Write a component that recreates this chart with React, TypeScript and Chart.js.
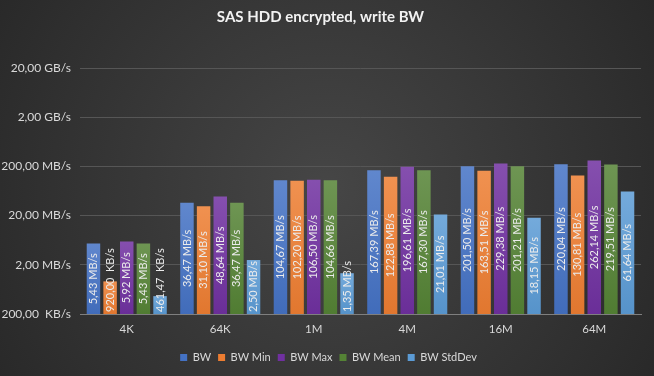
import React, { useEffect, useRef } from "react";
import { Chart, registerables } from "chart.js";

Chart.register(...registerables);

const categories = ["4K", "64K", "1M", "4M", "16M", "64M"];
const seriesNames = ["BW", "BW Min", "BW Max", "BW Mean", "BW StdDev"];
// values in MB/s
const bwValues = [5.43, 36.47, 104.67, 167.39, 201.5, 220.04];
const bwMinValues = [0.92, 31.1, 102.2, 122.88, 163.51, 130.81];
const bwMaxValues = [5.92, 48.64, 106.5, 196.61, 229.38, 262.14];
const bwMeanValues = [5.43, 36.47, 104.66, 167.3, 201.21, 219.51];
const bwStdDevValues = [0.46147, 2.5, 1.35, 21.01, 18.15, 61.64];
const yTickValues = [0.2, 2, 20, 200, 2000, 20000];

const seriesColors = ["#4472C4", "#ED7D31", "#7030A0", "#548235", "#5B9BD5"];
const FONT = "Lato, 'Noto Sans', sans-serif";

function fmt(v: number): string {
  const c = (x: number) => x.toFixed(2).replace(".", ",");
  if (v < 1) return c(v * 1000) + "  KB/s";
  if (v >= 1000) return c(v / 1000) + " GB/s";
  return c(v) + " MB/s";
}

function mix(hex: string, target: number, amt: number): string {
  const n = parseInt(hex.slice(1), 16);
  const r = (n >> 16) & 255, g = (n >> 8) & 255, b = n & 255;
  const m = (x: number) => Math.round(x + (target - x) * amt);
  return `rgb(${m(r)},${m(g)},${m(b)})`;
}

const bgPlugin = {
  id: "bg",
  beforeDraw(chart: any) {
    const { ctx, width, height } = chart;
    const g = ctx.createRadialGradient(width / 2, height / 2, 0, width / 2, height / 2, Math.max(width, height) * 0.6);
    g.addColorStop(0, "#464646");
    g.addColorStop(1, "#282828");
    ctx.save();
    ctx.fillStyle = g;
    ctx.fillRect(0, 0, width, height);
    ctx.restore();
  },
};

const legendShiftPlugin = {
  id: "legendShift",
  afterLayout(chart: any) {
    const lg = chart.legend;
    if (lg) {
      lg.left += 8;
      lg.right += 8;
    }
  },
};

const labelPlugin = {
  id: "barLabels",
  afterDatasetsDraw(chart: any) {
    const ctx = chart.ctx;
    ctx.save();
    ctx.font = `11px ${FONT}`;
    chart.data.datasets.forEach((ds: any, di: number) => {
      const meta = chart.getDatasetMeta(di);
      meta.data.forEach((bar: any, i: number) => {
        const text = fmt(ds.data[i]);
        const w = ctx.measureText(text).width;
        const base = bar.base;
        let cy = (bar.y + base) / 2;
        if (cy + w / 2 > base - 2) cy = base - 2 - w / 2;
        ctx.save();
        ctx.translate(bar.x, cy);
        ctx.rotate(-Math.PI / 2);
        ctx.textAlign = "center";
        ctx.textBaseline = "middle";
        ctx.fillStyle = "#ebebeb";
        ctx.fillText(text, 0, 0);
        ctx.restore();
      });
    });
    ctx.restore();
  },
};

export default function App() {
  const ref = useRef<HTMLCanvasElement>(null);
  useEffect(() => {
    document.body.style.margin = "0";
    const allSeries = [bwValues, bwMinValues, bwMaxValues, bwMeanValues, bwStdDevValues];
    const chart = new Chart(ref.current!, {
      type: "bar",
      data: {
        labels: categories,
        datasets: allSeries.map((vals, si) => ({
          label: seriesNames[si],
          data: vals,
          barPercentage: 0.81,
          categoryPercentage: 0.89,
          backgroundColor: (c: any) => {
            const chart = c.chart;
            const base = seriesColors[si];
            if (!chart.chartArea || c.raw === undefined || c.type !== "data") return base;
            const y = chart.scales.y;
            const top = y.getPixelForValue(c.raw);
            const bottom = y.bottom;
            if (!isFinite(top) || bottom - top < 1) return base;
            const g = chart.ctx.createLinearGradient(0, top, 0, bottom);
            g.addColorStop(0, mix(base, 255, 0.15));
            g.addColorStop(1, mix(base, 0, 0.05));
            return g;
          },
        })),
      },
      options: {
        responsive: true,
        maintainAspectRatio: false,
        animation: false,
        layout: { padding: { left: 0, right: 13, top: 0, bottom: 3 } },
        plugins: {
          title: {
            display: true,
            text: "SAS HDD encrypted, write BW",
            color: "#f2f2f2",
            font: { size: 15, weight: "bold", family: FONT },
            padding: { top: 8, bottom: 42 },
          },
          legend: {
            position: "bottom",
            labels: {
              boxWidth: 7,
              boxHeight: 7,
              color: "#d9d9d9",
              font: { size: 11, family: FONT },
              padding: 7,
              generateLabels: (chart: any) =>
                chart.data.datasets.map((ds: any, i: number) => ({
                  text: ds.label,
                  fillStyle: seriesColors[i],
                  strokeStyle: seriesColors[i],
                  lineWidth: 0,
                  fontColor: "#d9d9d9",
                  datasetIndex: i,
                  hidden: false,
                })),
            },
          },
          tooltip: { enabled: false },
        },
        scales: {
          x: {
            grid: { display: false, drawTicks: false },
            border: { display: true, color: "#7f7f7f", width: 1 },
            ticks: { color: "#d9d9d9", font: { size: 11.5, family: FONT }, padding: 8 },
            afterFit: (s: any) => {
              s.height = 31;
            },
          },
          y: {
            type: "logarithmic",
            min: 0.2,
            max: 20000,
            afterBuildTicks: (s: any) => {
              s.ticks = yTickValues.map((v) => ({ value: v }));
            },
            afterFit: (s: any) => {
              s.width = 80;
            },
            ticks: {
              color: "#d9d9d9",
              font: { size: 12, family: FONT },
              padding: 9,
              autoSkip: false,
              callback: (v: any) => fmt(Number(v)),
            },
            grid: { color: "#565656", drawTicks: false },
            border: { display: false },
          },
        },
      },
      plugins: [bgPlugin, legendShiftPlugin, labelPlugin],
    } as any);
    return () => chart.destroy();
  }, []);
  return (
    <div style={{ width: 654, height: 376, position: "relative" }}>
      <canvas ref={ref} />
    </div>
  );
}
